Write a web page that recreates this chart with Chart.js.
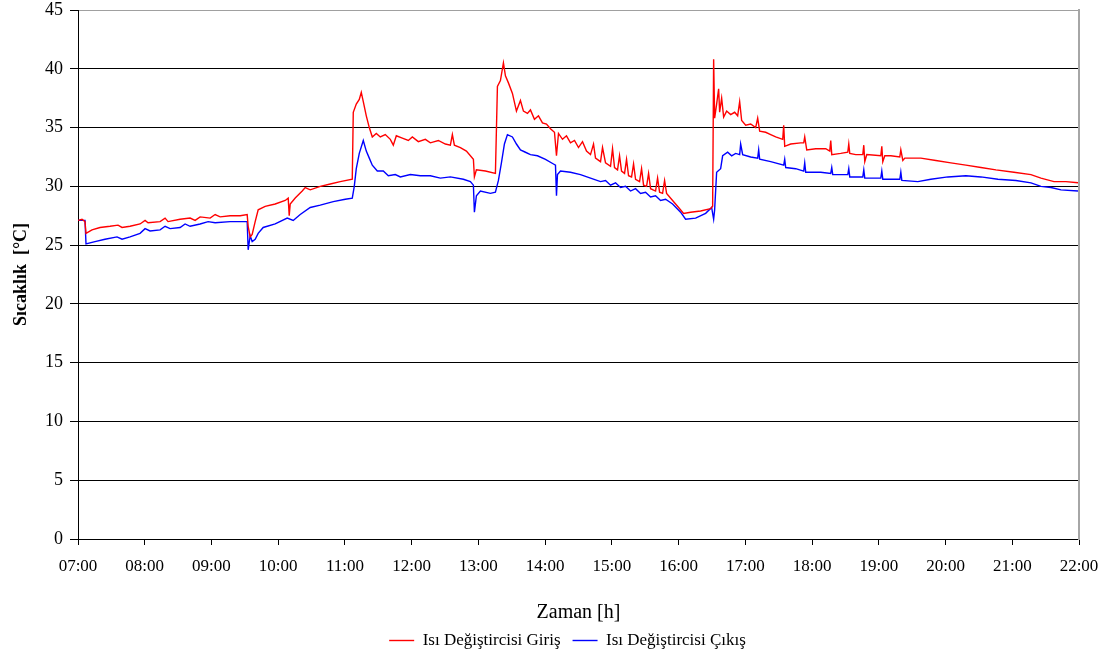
<!DOCTYPE html>
<html lang="tr">
<head>
<meta charset="utf-8">
<title>Sıcaklık - Zaman</title>
<script src="https://cdn.jsdelivr.net/npm/chart.js"></script>
<style>
  html, body { margin: 0; padding: 0; background: #ffffff; }
  #chart { display: block; }
</style>
</head>
<body>
<canvas id="chart" width="1117" height="659"></canvas>
<script>
// Time of day in decimal hours (07:00 = 7.0)
const girisTimes = [
  7.000, 7.060, 7.105, 7.120, 7.210, 7.330, 7.480, 7.600, 7.660, 7.780,
  7.930, 8.005, 8.050, 8.230, 8.305, 8.350, 8.530, 8.680, 8.755, 8.830,
  8.980, 9.055, 9.130, 9.280, 9.430, 9.535, 9.550, 9.580, 9.610, 9.655,
  9.700, 9.805, 9.955, 10.105, 10.150, 10.165, 10.180, 10.255, 10.360, 10.405,
  10.480, 10.630, 10.780, 10.930, 11.110, 11.125, 11.170, 11.215, 11.245, 11.275,
  11.320, 11.365, 11.410, 11.470, 11.530, 11.605, 11.680, 11.725, 11.770, 11.860,
  11.950, 12.010, 12.100, 12.205, 12.280, 12.400, 12.505, 12.580, 12.610, 12.640,
  12.730, 12.820, 12.925, 12.940, 12.970, 13.105, 13.255, 13.285, 13.330, 13.375,
  13.405, 13.450, 13.510, 13.570, 13.630, 13.675, 13.735, 13.780, 13.840, 13.900,
  13.960, 14.020, 14.080, 14.140, 14.170, 14.200, 14.260, 14.320, 14.380, 14.440,
  14.500, 14.560, 14.620, 14.680, 14.725, 14.755, 14.830, 14.860, 14.905, 14.980,
  15.010, 15.040, 15.085, 15.115, 15.145, 15.190, 15.220, 15.250, 15.295, 15.325,
  15.355, 15.415, 15.445, 15.475, 15.520, 15.550, 15.580, 15.655, 15.685, 15.715,
  15.760, 15.790, 15.820, 15.910, 16.000, 16.075, 16.180, 16.330, 16.480, 16.510,
  16.525, 16.540, 16.570, 16.600, 16.615, 16.645, 16.675, 16.720, 16.780, 16.840,
  16.885, 16.915, 16.945, 17.005, 17.080, 17.155, 17.185, 17.215, 17.305, 17.380,
  17.455, 17.560, 17.575, 17.590, 17.680, 17.830, 17.875, 17.890, 17.920, 18.055,
  18.205, 18.265, 18.280, 18.295, 18.430, 18.535, 18.550, 18.565, 18.655, 18.760,
  18.775, 18.790, 18.820, 19.030, 19.045, 19.060, 19.090, 19.180, 19.315, 19.330,
  19.360, 19.390, 19.630, 19.855, 20.080, 20.305, 20.530, 20.755, 21.025, 21.280,
  21.430, 21.625, 21.805, 21.985
];
// Heat exchanger inlet temperature, °C
const girisValues = [
  27.1, 27.2, 27.0, 26.0, 26.3, 26.5, 26.6, 26.7, 26.5, 26.6,
  26.8, 27.1, 26.9, 27.0, 27.3, 27.0, 27.2, 27.3, 27.1, 27.4,
  27.3, 27.6, 27.4, 27.5, 27.5, 27.6, 26.6, 25.7, 25.9, 27.0,
  28.0, 28.3, 28.5, 28.8, 29.0, 27.5, 28.5, 29.0, 29.6, 29.9,
  29.7, 30.0, 30.2, 30.4, 30.6, 36.3, 37.0, 37.4, 38.0, 37.2,
  36.0, 35.0, 34.2, 34.5, 34.2, 34.4, 34.0, 33.5, 34.3, 34.1,
  33.9, 34.2, 33.8, 34.0, 33.7, 33.9, 33.6, 33.5, 34.4, 33.5,
  33.3, 33.0, 32.3, 30.8, 31.4, 31.3, 31.1, 38.5, 39.0, 40.5,
  39.4, 38.8, 37.9, 36.4, 37.3, 36.4, 36.2, 36.5, 35.7, 36.0,
  35.4, 35.3, 34.9, 34.6, 32.6, 34.5, 34.0, 34.3, 33.7, 33.9,
  33.3, 33.8, 33.0, 32.7, 33.6, 32.4, 32.1, 33.3, 32.0, 31.7,
  33.2, 31.6, 31.4, 32.6, 31.3, 31.1, 32.3, 30.9, 30.8, 31.9,
  30.6, 30.4, 31.5, 30.1, 30.0, 31.1, 29.8, 29.6, 30.7, 29.5,
  29.4, 30.5, 29.4, 28.8, 28.2, 27.7, 27.8, 27.9, 28.1, 28.3,
  40.8, 35.8, 37.0, 38.3, 36.3, 37.5, 35.9, 36.4, 36.1, 36.3,
  36.0, 37.2, 35.6, 35.2, 35.3, 35.0, 35.8, 34.7, 34.6, 34.4,
  34.2, 34.0, 35.2, 33.4, 33.6, 33.7, 33.7, 34.2, 33.1, 33.2,
  33.2, 33.0, 33.9, 32.7, 32.8, 32.9, 33.6, 32.8, 32.7, 32.7,
  33.5, 32.1, 32.7, 32.6, 33.4, 32.1, 32.6, 32.6, 32.5, 33.1,
  32.2, 32.4, 32.4, 32.2, 32.0, 31.8, 31.6, 31.4, 31.2, 31.0,
  30.7, 30.4, 30.4, 30.3
];

const cikisTimes = [
  7.000, 7.105, 7.120, 7.255, 7.405, 7.585, 7.660, 7.780, 7.930, 8.005,
  8.080, 8.230, 8.305, 8.380, 8.530, 8.605, 8.680, 8.830, 8.950, 9.055,
  9.280, 9.535, 9.550, 9.580, 9.610, 9.655, 9.700, 9.775, 9.955, 10.135,
  10.225, 10.330, 10.480, 10.630, 10.825, 11.005, 11.110, 11.140, 11.170, 11.215,
  11.275, 11.320, 11.365, 11.410, 11.485, 11.575, 11.650, 11.755, 11.830, 11.980,
  12.130, 12.280, 12.430, 12.580, 12.775, 12.880, 12.925, 12.940, 12.970, 13.030,
  13.180, 13.255, 13.300, 13.345, 13.390, 13.435, 13.510, 13.570, 13.630, 13.705,
  13.780, 13.885, 14.005, 14.125, 14.155, 14.170, 14.185, 14.230, 14.380, 14.530,
  14.680, 14.830, 14.905, 14.980, 15.055, 15.130, 15.205, 15.280, 15.355, 15.430,
  15.505, 15.580, 15.655, 15.730, 15.805, 15.910, 16.030, 16.105, 16.255, 16.405,
  16.495, 16.525, 16.540, 16.570, 16.630, 16.660, 16.735, 16.795, 16.855, 16.915,
  16.930, 16.960, 17.080, 17.185, 17.200, 17.215, 17.380, 17.575, 17.590, 17.605,
  17.755, 17.875, 17.890, 17.905, 18.130, 18.280, 18.295, 18.310, 18.535, 18.550,
  18.565, 18.760, 18.775, 18.790, 19.030, 19.045, 19.060, 19.315, 19.330, 19.345,
  19.585, 19.780, 20.035, 20.305, 20.530, 20.785, 21.055, 21.280, 21.430, 21.580,
  21.730, 21.985
];
// Heat exchanger outlet temperature, °C
const cikisValues = [
  27.1, 27.1, 25.1, 25.3, 25.5, 25.7, 25.5, 25.7, 26.0, 26.4,
  26.2, 26.3, 26.6, 26.4, 26.5, 26.8, 26.6, 26.8, 27.0, 26.9,
  27.0, 27.0, 24.6, 25.8, 25.3, 25.5, 26.0, 26.5, 26.8, 27.3,
  27.1, 27.6, 28.2, 28.4, 28.7, 28.9, 29.0, 30.0, 31.5, 32.8,
  33.9, 33.0, 32.4, 31.8, 31.3, 31.3, 30.9, 31.0, 30.8, 31.0,
  30.9, 30.9, 30.7, 30.8, 30.6, 30.4, 30.1, 27.8, 29.2, 29.6,
  29.4, 29.5, 30.5, 32.0, 33.6, 34.4, 34.2, 33.6, 33.1, 32.9,
  32.7, 32.6, 32.3, 31.9, 31.8, 29.2, 31.0, 31.3, 31.2, 31.0,
  30.7, 30.4, 30.5, 30.1, 30.3, 29.9, 30.0, 29.6, 29.8, 29.4,
  29.5, 29.1, 29.2, 28.8, 28.9, 28.5, 27.8, 27.2, 27.3, 27.7,
  28.2, 27.2, 28.0, 31.2, 31.5, 32.6, 32.9, 32.6, 32.8, 32.7,
  33.6, 32.7, 32.5, 32.4, 33.1, 32.3, 32.1, 31.8, 32.3, 31.6,
  31.5, 31.3, 32.0, 31.2, 31.2, 31.1, 31.6, 31.0, 31.0, 31.5,
  30.8, 30.8, 31.4, 30.7, 30.7, 31.3, 30.6, 30.6, 31.2, 30.5,
  30.4, 30.6, 30.8, 30.9, 30.8, 30.6, 30.5, 30.3, 30.0, 29.9,
  29.7, 29.6
];

// Axis ticks
const hourTicks = [7, 8, 9, 10, 11, 12, 13, 14, 15, 16, 17, 18, 19, 20, 21, 22];
const tempTicks = [0, 5, 10, 15, 20, 25, 30, 35, 40, 45];

const seriesLabels = ['Isı Değiştircisi Giriş', 'Isı Değiştircisi Çıkış'];
const seriesColors = ['#ff0000', '#0000ff'];

const serif = '"Liberation Serif", "Times New Roman", serif';

function toPoints(times, values) {
  return times.map((t, i) => ({ x: t, y: values[i] }));
}

function hourLabel(v) {
  const h = Math.round(v);
  return (h < 10 ? '0' + h : String(h)) + ':00';
}

// Nudge the legend so it sits centred under the plotted series
const legendOffset = {
  id: 'legendOffset',
  afterLayout(chart) {
    const lg = chart.legend;
    if (lg) { lg.left -= 11; lg.right -= 11; }
  }
};

new Chart(document.getElementById('chart'), {
  type: 'line',
  data: {
    datasets: [
      {
        label: seriesLabels[0],
        data: toPoints(girisTimes, girisValues),
        borderColor: seriesColors[0],
        backgroundColor: seriesColors[0],
        borderWidth: 1.4,
        pointRadius: 0,
        tension: 0,
        fill: false
      },
      {
        label: seriesLabels[1],
        data: toPoints(cikisTimes, cikisValues),
        borderColor: seriesColors[1],
        backgroundColor: seriesColors[1],
        borderWidth: 1.4,
        pointRadius: 0,
        tension: 0,
        fill: false
      }
    ]
  },
  options: {
    responsive: false,
    animation: false,
    devicePixelRatio: 1,
    layout: { padding: { left: 0, right: 38, top: 10, bottom: 0 } },
    scales: {
      x: {
        type: 'linear',
        min: hourTicks[0],
        max: hourTicks[hourTicks.length - 1],
        afterBuildTicks(scale) { scale.ticks = hourTicks.map(v => ({ value: v })); },
        ticks: {
          callback: hourLabel,
          color: '#000',
          font: { family: serif, size: 17 },
          padding: 11,
          maxRotation: 0,
          autoSkip: false
        },
        grid: { drawOnChartArea: false, color: '#000', tickColor: '#000', tickLength: 6 },
        border: { color: '#000', width: 1 },
        title: {
          display: true,
          text: 'Zaman [h]',
          color: '#000',
          font: { family: serif, size: 20 },
          padding: { top: 0, bottom: -5 }
        },
        afterFit(scale) { scale.height = 81; }
      },
      y: {
        min: tempTicks[0],
        max: tempTicks[tempTicks.length - 1],
        afterBuildTicks(scale) { scale.ticks = tempTicks.map(v => ({ value: v })); },
        ticks: {
          color: '#000',
          font: { family: serif, size: 18 },
          padding: 7
        },
        grid: {
          color: c => (c.tick && c.tick.value === 45 ? '#a0a0a0' : '#000'),
          tickColor: '#000',
          tickLength: 8,
          lineWidth: 1
        },
        border: { color: '#000', width: 1 },
        title: {
          display: true,
          text: 'Sıcaklık  [°C]',
          color: '#000',
          font: { family: serif, size: 18, weight: 'bold' },
          padding: { top: 11, bottom: 0 }
        },
        afterFit(scale) {
          scale.width = 78;
          scale.paddingTop = 0;
          scale.paddingBottom = 0;
        }
      },
      frame: {
        position: 'right',
        min: 0,
        max: 45,
        ticks: { display: false },
        grid: { display: false, drawTicks: false },
        border: { display: true, color: '#a6a6a6', width: 2 },
        afterFit(scale) {
          scale.width = 0;
          scale.paddingTop = 0;
          scale.paddingBottom = 0;
        }
      }
    },
    plugins: {
      legend: {
        position: 'bottom',
        fullSize: false,
        labels: {
          usePointStyle: true,
          pointStyle: 'line',
          pointStyleWidth: 25,
          boxHeight: 16,
          color: '#000',
          font: { family: serif, size: 17 },
          padding: 12
        }
      },
      tooltip: { enabled: false }
    }
  },
  plugins: [legendOffset]
});
</script>
</body>
</html>
